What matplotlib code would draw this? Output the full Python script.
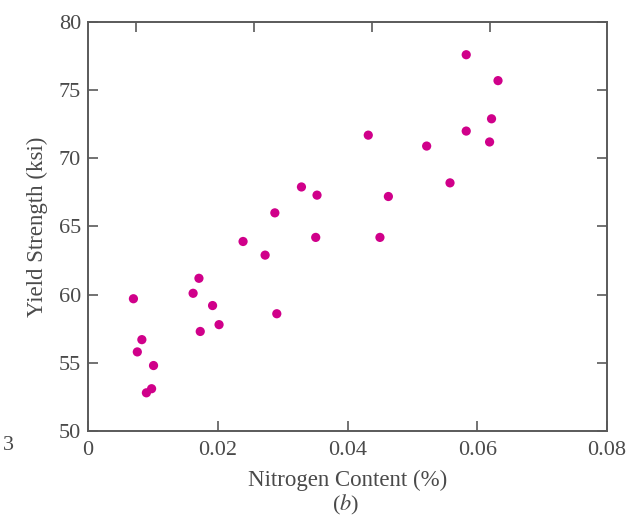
import matplotlib.pyplot as plt

# nitrogen content (%) and yield strength (ksi)
nitrogen = [0.0070, 0.0083, 0.0076, 0.0101, 0.0090, 0.0098,
            0.0171, 0.0162, 0.0192, 0.0202, 0.0173,
            0.0273, 0.0291, 0.0329, 0.0353, 0.0288, 0.0351, 0.0239,
            0.0432, 0.0463, 0.0450, 0.0522, 0.0558,
            0.0583, 0.0632, 0.0622, 0.0583, 0.0619]
strength = [59.7, 56.7, 55.8, 54.8, 52.8, 53.1,
            61.2, 60.1, 59.2, 57.8, 57.3,
            62.9, 58.6, 67.9, 67.3, 66.0, 64.2, 63.9,
            71.7, 67.2, 64.2, 70.9, 68.2,
            77.6, 75.7, 72.9, 72.0, 71.2]

x_ticks = [0, 0.02, 0.04, 0.06, 0.08]
x_labels = ['0', '0.02', '0.04', '0.06', '0.08']
y_ticks = [50, 55, 60, 65, 70, 75, 80]
top_ticks = [0.0074, 0.0256, 0.0438, 0.0620]

plt.rcParams['font.family'] = ['Liberation Serif', 'DejaVu Serif']
txt = '#4a4a4a'
edge = '#5a5a5a'

fig = plt.figure(figsize=(6.3, 5.19), dpi=100)
ax = fig.add_axes([0.1397, 0.1696, 0.8238, 0.788])

ax.scatter(nitrogen, strength, s=44, color='#d0008a', edgecolors='none', zorder=3)

ax.set_xlim(0, 0.08)
ax.set_ylim(50, 80)
ax.set_xticks(x_ticks)
ax.set_xticklabels(x_labels)
ax.set_yticks(y_ticks)
ax.tick_params(direction='in', length=7, width=1.2, color=edge,
               labelsize=16, labelcolor=txt, right=True, pad=5)
ax.tick_params(axis='x', pad=7)
for s in ax.spines.values():
    s.set_color(edge)
    s.set_linewidth(1.4)

top = ax.secondary_xaxis('top')
top.set_xticks(top_ticks)
top.set_xticklabels([])
top.tick_params(direction='in', length=7, width=1.2, color=edge)
top.spines['top'].set_visible(False)

ax.set_xlabel('Nitrogen Content (%)', fontsize=16.5, color=txt, labelpad=7)
ax.set_ylabel('Yield Strength (ksi)', fontsize=16.5, color=txt, labelpad=8)

fig.text(0.548, 1 - 505 / 519, '($b$)', fontsize=16, color=txt,
         ha='center', va='center', math_fontfamily='stix')
fig.text(0.004, 1 - 446 / 519, '3', fontsize=16, color=txt,
         ha='left', va='center')

fig.savefig('out.png', dpi=100)
